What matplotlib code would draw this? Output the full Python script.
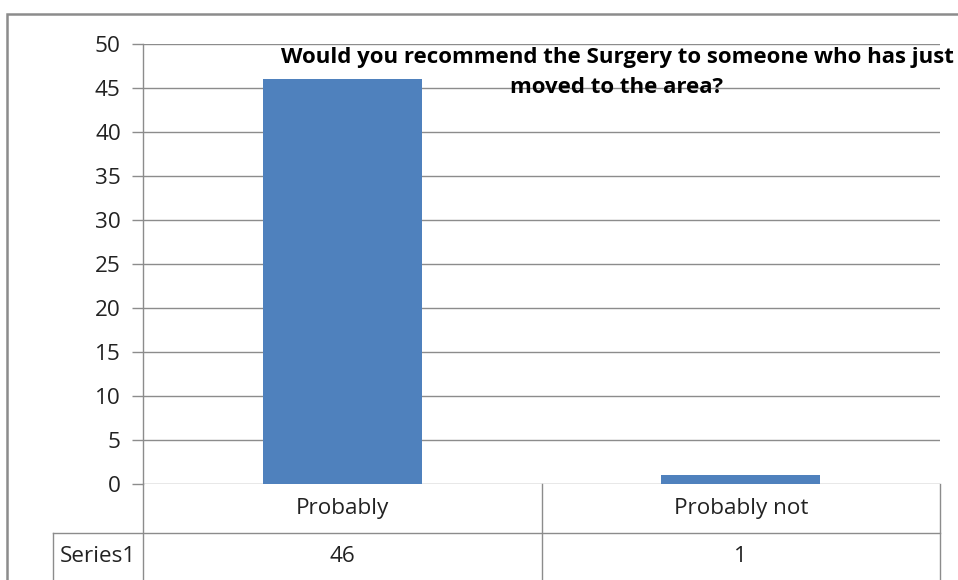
import matplotlib.pyplot as plt
from matplotlib.patches import Rectangle

plt.rcParams['font.family'] = ['Open Sans', 'DejaVu Sans']

categories = ['Probably', 'Probably not']
values = [46, 1]
series_name = 'Series1'
title = 'Would you recommend the Surgery to someone who has just\nmoved to the area?'
yticks = [0, 5, 10, 15, 20, 25, 30, 35, 40, 45, 50]

W, H = 958, 580
fig = plt.figure(figsize=(W / 100, H / 100), dpi=100)

# outer chart border (clipped right/bottom like the reference)
fig.patches.append(Rectangle((7 / W, -0.1), 1.1, 1 - 14 / H + 0.1, transform=fig.transFigure,
                             fill=False, edgecolor='#8c8c8c', linewidth=1.8))

left, right, top, bottom = 143, 940, 43.5, 484
ax = fig.add_axes([left / W, 1 - bottom / H, (right - left) / W, (bottom - top) / H])

gray = '#8c8c8c'
fs = 16.2
x = list(range(len(categories)))
ax.bar(x, values, width=0.4, color='#4f81bd', zorder=3)
ax.set_xlim(-0.5, len(categories) - 0.5)
ax.set_ylim(0, 50)
ax.set_yticks(yticks)
ax.yaxis.grid(True, color=gray, linewidth=1.0, zorder=0)
ax.tick_params(axis='y', length=8, width=1.0, color=gray, pad=8, labelsize=fs, labelcolor='#222222')
ax.tick_params(axis='x', bottom=False, labelbottom=False)
for s in ['top', 'right', 'bottom']:
    ax.spines[s].set_visible(False)
ax.spines['left'].set_color(gray)
ax.spines['left'].set_linewidth(1.0)
ax.set_facecolor('none')

# data table below the axes
row_h = 48.5 / (bottom - top)  # in axes units
tbl_left = (53 - left) / (right - left)
kw = dict(transform=ax.transAxes, color=gray, linewidth=1.0, clip_on=False)
ax.plot([0, 0], [0, -2 * row_h], **kw)
ax.plot([1, 1], [0, -2 * row_h], **kw)
ax.plot([0.5, 0.5], [0, -2 * row_h], **kw)
ax.plot([tbl_left, 1], [-row_h, -row_h], **kw)
ax.plot([tbl_left, 1], [-2 * row_h, -2 * row_h], **kw)
ax.plot([tbl_left, tbl_left], [-row_h, -2 * row_h], **kw)
for i, (c, v) in enumerate(zip(categories, values)):
    cx = (i + 0.5) / len(categories)
    ax.text(cx, -0.5 * row_h, c, transform=ax.transAxes, ha='center', va='center',
            fontsize=fs, color='#222222')
    ax.text(cx, -1.5 * row_h, str(v), transform=ax.transAxes, ha='center', va='center',
            fontsize=fs, color='#222222')
ax.text(tbl_left / 2, -1.5 * row_h, series_name, transform=ax.transAxes, ha='center',
        va='center', fontsize=fs, color='#222222')

fig.text(617 / W, 1 - 72.5 / H, title, ha='center', va='center', fontsize=16,
         fontweight='bold', linespacing=1.55, color='black')

fig.savefig('out.png', dpi=100)
